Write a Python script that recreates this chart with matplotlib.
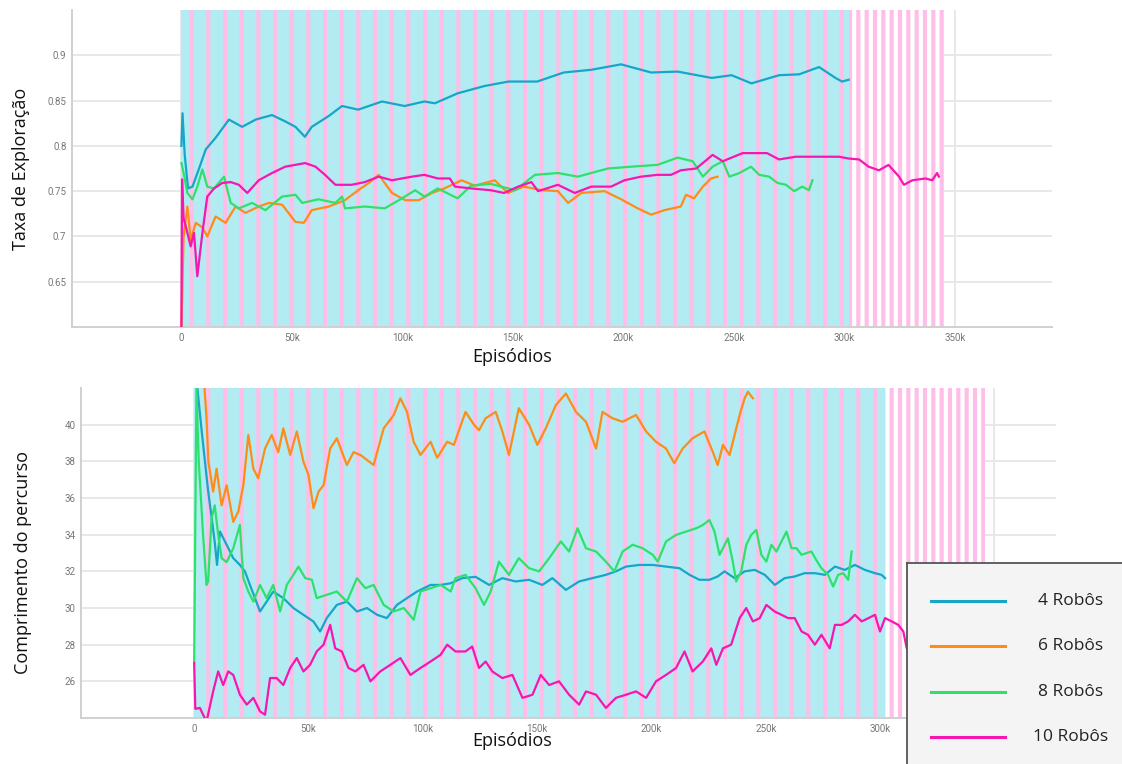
import numpy as np
import matplotlib
matplotlib.use("Agg")
import matplotlib.pyplot as plt
from matplotlib.ticker import FuncFormatter

labels = ["4 Robôs", "6 Robôs", "8 Robôs", "10 Robôs"]
colors = ["#17a5c8", "#ff8c1a", "#2fe06c", "#f716b0"]
raw_colors = ["#b2ecf2", "#ffe2c0", "#cdf5d8", "#fdbfe8"]

# ---------------- taxa de exploracao (x em milhares de episodios)
exp_x4 = [0, 0.5, 1.5, 3, 5, 8, 11, 15.5, 21.5, 27.5, 33.6, 41, 47, 51.6, 55.9, 59, 66.7, 72.7, 80, 90.8,
          101, 110, 114.7, 125, 137, 148, 161, 173, 185.5, 199, 212.6, 224.6, 240, 249, 258, 270.5, 279.6,
          288.6, 296, 299, 302]
exp_y4 = [0.80, 0.836, 0.79, 0.753, 0.755, 0.775, 0.796, 0.809, 0.829, 0.821, 0.829, 0.834, 0.827, 0.821,
          0.81, 0.821, 0.833, 0.844, 0.84, 0.849, 0.844, 0.849, 0.847, 0.858, 0.866, 0.871, 0.871, 0.881,
          0.884, 0.89, 0.881, 0.882, 0.875, 0.878, 0.869, 0.878, 0.879, 0.887, 0.875, 0.871, 0.873]

exp_x6 = [0, 1, 2.7, 4.2, 6.5, 9.5, 11.7, 15.5, 20, 24.5, 29, 35, 39.6, 45.6, 51.6, 55.4, 59, 66.7, 74, 80,
          84.8, 89.3, 95.3, 101.3, 107.4, 113.4, 119, 126.8, 132.8, 141.8, 147.8, 155, 163, 170.4, 175, 181,
          191.5, 199, 206.5, 212.6, 218.6, 226, 228.4, 232, 236, 239.7, 242.7]
exp_y6 = [0.60, 0.70, 0.733, 0.696, 0.715, 0.71, 0.70, 0.722, 0.715, 0.733, 0.726, 0.733, 0.737, 0.735,
          0.716, 0.715, 0.729, 0.733, 0.74, 0.751, 0.759, 0.768, 0.748, 0.74, 0.74, 0.748, 0.753, 0.762,
          0.756, 0.762, 0.748, 0.755, 0.751, 0.75, 0.737, 0.748, 0.75, 0.741, 0.731, 0.724, 0.729, 0.733,
          0.746, 0.742, 0.755, 0.764, 0.766]

exp_x8 = [0, 1, 2.7, 5, 7.2, 9.5, 11.7, 14.8, 19.3, 22.3, 26, 32, 38, 45.6, 51.6, 54.7, 62, 69.7, 72.7, 74,
          83, 92, 99.8, 105.8, 110, 116, 125, 131, 140, 151, 160, 170.4, 179.4, 193, 203.5, 215.5, 224.6,
          231.4, 236, 240.4, 245, 248, 252.5, 257.8, 261.5, 266, 269.8, 273.6, 277.3, 281, 284, 285.6]
exp_y8 = [0.781, 0.77, 0.748, 0.741, 0.755, 0.774, 0.755, 0.753, 0.766, 0.737, 0.731, 0.737, 0.729, 0.744,
          0.746, 0.737, 0.741, 0.737, 0.744, 0.731, 0.733, 0.731, 0.742, 0.751, 0.744, 0.753, 0.742, 0.756,
          0.758, 0.751, 0.768, 0.77, 0.766, 0.775, 0.777, 0.779, 0.787, 0.783, 0.766, 0.777, 0.783, 0.766,
          0.77, 0.777, 0.768, 0.766, 0.759, 0.757, 0.75, 0.755, 0.751, 0.762]

exp_x10 = [0, 0.3, 1, 2, 4.2, 5.7, 7.2, 9.5, 11.7, 14.8, 18.5, 22.3, 26, 29.8, 35, 41, 47, 56, 60.7, 65,
           69.7, 77, 83, 89.3, 95.3, 104.3, 110, 116, 121.5, 123.8, 131, 140, 146, 152.4, 158.4, 161.4,
           170.4, 178, 185.5, 194.5, 200.5, 208, 215.5, 221.6, 226, 233, 240.4, 245, 254, 265, 270.5, 278,
           288.6, 297.6, 302, 306.7, 311, 315.7, 320, 324.8, 327, 330.8, 336.8, 339.8, 342, 342.8]
exp_y10 = [0.60, 0.763, 0.72, 0.711, 0.689, 0.704, 0.656, 0.704, 0.744, 0.753, 0.759, 0.76, 0.757, 0.748,
           0.762, 0.77, 0.777, 0.781, 0.777, 0.768, 0.757, 0.757, 0.76, 0.766, 0.762, 0.766, 0.768, 0.764,
           0.764, 0.755, 0.753, 0.751, 0.748, 0.755, 0.76, 0.75, 0.757, 0.748, 0.755, 0.755, 0.762, 0.766,
           0.768, 0.768, 0.773, 0.775, 0.79, 0.783, 0.792, 0.792, 0.785, 0.788, 0.788, 0.788, 0.786, 0.785,
           0.777, 0.773, 0.779, 0.766, 0.757, 0.762, 0.764, 0.762, 0.77, 0.766]

# ---------------- comprimento do percurso
len_x4 = [0, 1, 3, 6, 9, 10, 11.3, 14.2, 17.1, 20, 22.2, 24.4, 26.6, 28.8, 31.7, 34.6, 39, 43.4, 47.8, 52.2,
          55.1, 58, 62.4, 66.8, 71.2, 75.6, 80, 84.3, 88.7, 93.1, 97.5, 103.4, 107.8, 112.2, 117.3, 123.1,
          129, 134.8, 140.6, 146.5, 152.3, 156.7, 162.6, 168.4, 174.2, 180.1, 184.5, 188.9, 194.7, 200.6,
          206.4, 212.3, 216.7, 221, 225.4, 229, 232, 236.4, 240.8, 245.2, 249.6, 254, 258.3, 262.7, 267,
          271.5, 275.9, 280.3, 284.6, 289, 293.4, 297.8, 300.7, 302.2]
len_y4 = [44, 42.5, 40, 36.5, 33.6, 32.35, 34.17, 33.45, 32.72, 32.35, 32.0, 31.26, 30.54, 29.81, 30.35,
          30.9, 30.54, 30.0, 29.63, 29.26, 28.72, 29.45, 30.17, 30.35, 29.81, 30.0, 29.63, 29.45, 30.17,
          30.54, 30.9, 31.26, 31.26, 31.35, 31.63, 31.7, 31.26, 31.63, 31.45, 31.54, 31.26, 31.63, 30.99,
          31.45, 31.63, 31.81, 32.0, 32.26, 32.35, 32.35, 32.26, 32.17, 31.81, 31.54, 31.54, 31.72, 32.0,
          31.63, 32.0, 32.08, 31.81, 31.26, 31.63, 31.72, 31.9, 31.9, 31.81, 32.26, 32.08, 32.35, 32.08,
          31.9, 31.81, 31.63]

len_x6 = [0, 4, 5.4, 6.2, 8.3, 9.8, 12, 14.2, 17.1, 19.3, 21.5, 23.7, 25.9, 28, 31, 33.9, 36.8, 39, 42,
          44.9, 47.8, 50, 52.2, 54.4, 56.6, 59.5, 62.4, 66.8, 69.7, 72.7, 78.5, 82.9, 87.3, 90.2, 93.1, 96,
          99, 103.4, 106.3, 110.7, 113.6, 118.7, 122.4, 124.6, 127.5, 131.9, 134.8, 137.7, 142, 146.5,
          150.1, 153.8, 158.2, 162.6, 167, 171.4, 175.8, 178.6, 183, 187.4, 193.3, 197.7, 202, 206.4, 210,
          213.7, 218, 223.2, 226.9, 229, 231.3, 234.2, 236.4, 238.6, 240.8, 242.2, 244.4]
len_y6 = [45, 43, 40.35, 38.0, 36.35, 37.6, 35.6, 36.7, 34.7, 35.26, 36.7, 39.44, 37.6, 37.08, 38.7, 39.44,
          38.5, 39.8, 38.35, 39.63, 37.98, 37.26, 35.44, 36.35, 36.7, 38.7, 39.26, 37.8, 38.5, 38.35, 37.8,
          39.8, 40.53, 41.44, 40.7, 39.07, 38.35, 39.07, 38.2, 39.07, 38.9, 40.7, 40.0, 39.7, 40.35, 40.7,
          39.63, 38.35, 40.9, 40.0, 38.9, 39.8, 41.07, 41.7, 40.7, 40.16, 38.7, 40.7, 40.35, 40.16, 40.53,
          39.63, 39.07, 38.7, 37.9, 38.7, 39.26, 39.63, 38.5, 37.8, 38.9, 38.35, 39.44, 40.53, 41.44, 41.8,
          41.44]

len_x8 = [0, 1, 2, 3.9, 5.4, 6.1, 7.6, 9, 10.5, 12, 14.2, 17.1, 20, 21.5, 23.7, 25.9, 28.8, 31.7, 34.6,
          37.6, 40.5, 43.4, 45.6, 48.6, 51.5, 53.6, 58, 62.4, 66.8, 71.2, 74.9, 78.5, 82.9, 87.3, 91.7, 96,
          99, 103.4, 107.8, 112.2, 114.3, 118.7, 123.1, 126.8, 129.7, 133.3, 137.7, 142, 146.5, 150.9,
          155.3, 160.4, 164, 167.7, 171.4, 175.8, 180.1, 183.8, 187.4, 191.8, 196.2, 200.6, 202.8, 206.4,
          210.8, 215.2, 219.6, 222.5, 225.4, 227.6, 229.8, 233.5, 235.6, 237.1, 239.3, 241.5, 243.7, 245.9,
          248.1, 250.3, 252.5, 254.7, 256.9, 259.1, 261.3, 263.5, 265.7, 267.9, 270, 272.2, 274.4, 277.3,
          279.5, 281.7, 283.9, 286.1, 287.6]
len_y8 = [27, 42, 38, 33.99, 31.26, 31.45, 34.9, 35.6, 34.0, 32.72, 32.5, 33.26, 34.53, 31.63, 30.9, 30.35,
          31.26, 30.54, 31.26, 29.81, 31.26, 31.81, 32.26, 31.63, 31.54, 30.54, 30.72, 30.9, 30.35, 31.63,
          31.08, 31.26, 30.17, 29.81, 30.0, 29.36, 30.9, 31.08, 31.26, 30.9, 31.63, 31.81, 31.08, 30.17,
          30.9, 32.53, 31.81, 32.72, 32.17, 32.0, 32.72, 33.63, 33.08, 34.35, 33.26, 33.08, 32.53, 32.0,
          33.08, 33.45, 33.26, 32.9, 32.53, 33.63, 33.99, 34.17, 34.35, 34.53, 34.8, 34.17, 32.9, 33.8,
          32.53, 31.45, 32.0, 33.45, 33.99, 34.26, 32.9, 32.53, 33.45, 33.08, 33.63, 34.17, 33.26, 33.26,
          32.9, 33.0, 33.08, 32.6, 32.17, 31.81, 31.17, 31.81, 31.9, 31.54, 33.08]

len_x10 = [0, 0.5, 2.5, 5.4, 8.3, 10.5, 12.7, 14.9, 17.1, 20, 23, 25.9, 28.8, 31, 33.2, 36.1, 39, 42, 44.9,
           47.8, 50.7, 53.6, 56.6, 59.5, 61.7, 64.6, 67.5, 70.5, 74.1, 77.1, 81.4, 85.8, 90.2, 94.6, 99,
           103.4, 107.8, 110.7, 114.3, 118.7, 121.6, 124.6, 127.5, 130.4, 134.8, 139.2, 143.6, 148, 151.6,
           155.3, 159.6, 164, 168.4, 171.4, 175.8, 180.1, 184.5, 188.9, 193.3, 197.7, 202, 206.4, 210.8,
           214.5, 218, 222.5, 226.2, 228.4, 231.3, 234.9, 238.6, 241.5, 244.4, 247.4, 250.3, 253.9, 256.9,
           259.8, 262.7, 265.7, 268.5, 271.5, 274.4, 278, 280.3, 283.2, 286.1, 289, 292, 295, 297.8, 300,
           302.2, 305.1, 308, 310.2, 311.7, 314]
len_y10 = [27.0, 24.5, 24.55, 23.8, 25.45, 26.54, 25.8, 26.54, 26.35, 25.27, 24.73, 25.1, 24.36, 24.18,
           26.18, 26.18, 25.8, 26.73, 27.27, 26.54, 26.9, 27.63, 28.0, 29.08, 27.8, 27.63, 26.73, 26.54,
           26.9, 26.0, 26.54, 26.9, 27.27, 26.35, 26.73, 27.08, 27.45, 28.0, 27.63, 27.63, 27.9, 26.73,
           27.08, 26.54, 26.18, 26.35, 25.1, 25.27, 26.35, 25.8, 26.0, 25.27, 24.73, 25.45, 25.27, 24.55,
           25.1, 25.27, 25.45, 25.1, 26.0, 26.35, 26.73, 27.63, 26.54, 27.08, 27.8, 26.9, 27.8, 28.0, 29.45,
           30.0, 29.27, 29.45, 30.17, 29.81, 29.63, 29.45, 29.45, 28.72, 28.54, 28.0, 28.54, 27.8, 29.08,
           29.08, 29.27, 29.63, 29.27, 29.45, 29.63, 28.72, 29.45, 29.27, 29.08, 28.72, 27.8, 27.6]

# onde os dados brutos (faixas claras) terminam, em milhares
raw_end_top = 345
raw_end_bottom = 346

kfmt = FuncFormatter(lambda v, p: "0" if v == 0 else "%dk" % round(v / 1000))
gfmt = FuncFormatter(lambda v, p: "%g" % round(v, 3))


def draw_panel(ax, xs, ys, raw_end, ylim, yticks, ylabel, ylab_pos, xlab_pos):
    ax.set_xlim(-49500, 394000 if ylim[1] < 1 else 377000)
    ax.set_ylim(*ylim)
    ax.set_yticks(yticks)
    ax.yaxis.set_major_formatter(gfmt)
    ax.set_xticks(np.arange(0, 400000, 50000))
    ax.xaxis.set_major_formatter(kfmt)
    ax.grid(True, color="#e8e8e8", lw=1.4, zorder=0)
    ax.set_axisbelow(True)
    for s in ["top", "right"]:
        ax.spines[s].set_visible(False)
    for s in ["left", "bottom"]:
        ax.spines[s].set_color("#d0d0d0")
        ax.spines[s].set_linewidth(1.4)
    ax.tick_params(length=0, labelsize=7, labelcolor="#777777", pad=4)
    for t in ax.get_xticklabels() + ax.get_yticklabels():
        t.set_family("Roboto")

    # dados brutos: rosa com falhas brancas, ciano com listras rosa por cima
    with plt.rc_context({"hatch.linewidth": 3.0}):
        ax.axvspan(0, raw_end * 1000, facecolor=raw_colors[3], edgecolor="white", hatch="||",
                   lw=0, zorder=1)
        ax.axvspan(0, xs[0][-1] * 1000, facecolor=raw_colors[0], edgecolor=raw_colors[3], hatch="|",
                   lw=0, zorder=1.1)

    for x, y, c in zip(xs, ys, colors):
        ax.plot(np.array(x) * 1000, y, color=c, lw=1.6, zorder=3, solid_joinstyle="round")

    ax.set_ylabel(ylabel, family="Open Sans", fontsize=13, color="#111111")
    ax.yaxis.set_label_coords(*ylab_pos)
    ax.set_xlabel("Episódios", family="Open Sans", fontsize=13, color="#111111")
    ax.xaxis.set_label_coords(*xlab_pos)


fig = plt.figure(figsize=(11.22, 7.64), dpi=100)
ax1 = fig.add_axes([0.0642, 0.572, 0.8734, 0.4149])
ax2 = fig.add_axes([0.0722, 0.0602, 0.8690, 0.4319])

draw_panel(ax1, [exp_x4, exp_x6, exp_x8, exp_x10], [exp_y4, exp_y6, exp_y8, exp_y10], raw_end_top,
           (0.6, 0.95), [0.65, 0.7, 0.75, 0.8, 0.85, 0.9], "Taxa de Exploração",
           (-0.043, 0.5), (0.449, -0.065))
draw_panel(ax2, [len_x4, len_x6, len_x8, len_x10], [len_y4, len_y6, len_y8, len_y10], raw_end_bottom,
           (24, 42), [26, 28, 30, 32, 34, 36, 38, 40], "Comprimento do percurso",
           (-0.05, 0.47), (0.442, -0.042))

# legenda desenhada à mão (caixa cortada na borda da figura)
leg = fig.add_axes([907 / 1122, -10 / 764, 230 / 1122, 211 / 764])
leg.set_xlim(907, 1137)
leg.set_ylim(774, 563)
leg.set_facecolor("#f4f4f4")
leg.set_xticks([])
leg.set_yticks([])
for s in leg.spines.values():
    s.set_color("#555555")
    s.set_linewidth(1.3)
for i, (lab, c) in enumerate(zip(labels, colors)):
    yy = 601 + i * 45.3
    leg.plot([931, 1005], [yy, yy], color=c, lw=2.2)
    leg.text(1071, yy, lab, ha="center", va="center", family="Open Sans", fontsize=12.5, color="#222222")

fig.savefig("out.png", dpi=100)
